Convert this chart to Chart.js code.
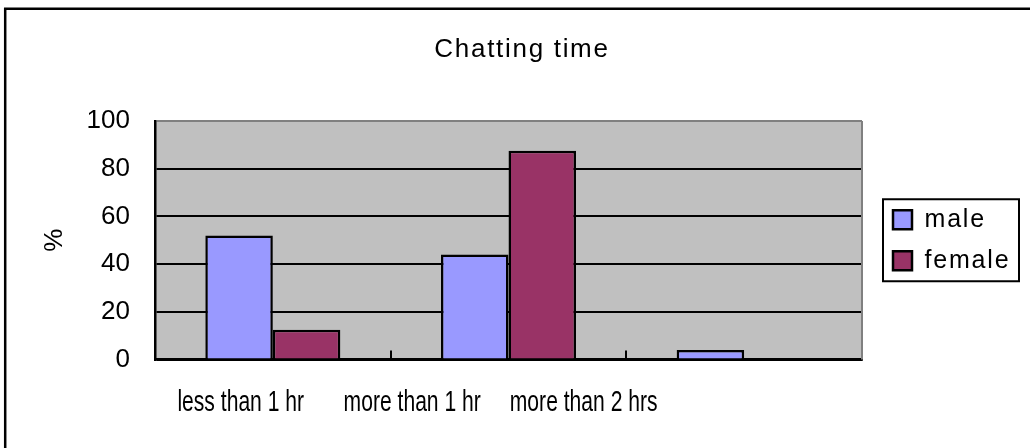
<!DOCTYPE html>
<html>
<head>
<meta charset="utf-8">
<title>Chatting time</title>
<script src="https://cdn.jsdelivr.net/npm/chart.js@4"></script>
<style>
  html, body { margin: 0; padding: 0; background: #fff; }
  canvas { display: block; }
</style>
</head>
<body>
<canvas id="chart" width="1030" height="448"></canvas>
<script>
// Survey data: share of respondents (%) by daily chatting time
const categories = ['less than 1 hr', 'more than 1 hr', 'more than 2 hrs'];
const seriesNames = ['male', 'female'];
const maleValues = [52, 44, 4];
const femaleValues = [12.5, 87.5, 0];
const yTicks = [0, 20, 40, 60, 80, 100];
const chartTitle = 'Chatting time';
const yTitle = '%';

const FONT = "'Liberation Sans', Arial, sans-serif";
Chart.defaults.font.family = FONT;
Chart.defaults.color = '#000';

// Wrap a drawing/measuring method so its text is rendered with extra letter spacing
function withLetterSpacing(obj, name, spacing) {
  const orig = obj[name];
  obj[name] = function (...args) {
    const ctx = this.ctx;
    const prev = ctx.letterSpacing;
    ctx.letterSpacing = spacing;
    try { return orig.apply(this, args); } finally { ctx.letterSpacing = prev; }
  };
}

const framePlugin = {
  id: 'frame',
  beforeLayout(chart) {
    if (chart.$framed) return;
    chart.$framed = true;
    const lg = chart.legend;
    const fit = lg.fit;
    lg.fit = function () { fit.call(this); this.width = 142; };
    withLetterSpacing(lg, 'fit', '1.8px');
    withLetterSpacing(lg, 'draw', '1.8px');
    withLetterSpacing(chart.titleBlock, 'draw', '1.7px');
  },
  beforeDraw(chart) {
    // grey plot background
    const { ctx, chartArea: a } = chart;
    ctx.save();
    ctx.fillStyle = '#C0C0C0';
    ctx.fillRect(a.left, a.top, a.width, a.height);
    ctx.restore();
  },
  beforeDatasetsDraw(chart) {
    // grey right edge of the plot area
    const { ctx, chartArea: a } = chart;
    ctx.save();
    ctx.strokeStyle = '#808080';
    ctx.lineWidth = 2;
    ctx.beginPath();
    ctx.moveTo(a.right, a.top);
    ctx.lineTo(a.right, a.bottom);
    ctx.stroke();
    ctx.restore();
  },
  afterDraw(chart) {
    const { ctx, chartArea: a } = chart;
    ctx.save();

    // category labels, set in a condensed face along the bottom axis
    const xs = chart.scales.x;
    const squash = 0.7276;
    ctx.save();
    ctx.font = "29px " + FONT;
    ctx.fillStyle = '#000';
    ctx.textAlign = 'center';
    ctx.textBaseline = 'alphabetic';
    ctx.translate(a.left, 0);
    ctx.scale(squash, 1);
    categories.forEach((c, i) => {
      ctx.fillText(c, xs.getPixelForValue(i) - a.left, xs.top + 51.5);
    });
    ctx.restore();

    // legend frame
    const lg = chart.legend;
    const hb = lg.legendHitBoxes;
    if (hb && hb.length) {
      const first = hb[0], last = hb[hb.length - 1];
      const x0 = first.left - 10, y0 = first.top - 8;
      const y1 = last.top + last.height + 8;
      ctx.strokeStyle = '#000';
      ctx.lineWidth = 2;
      ctx.strokeRect(x0, y0, lg.right - x0, y1 - y0);
    }

    // outer chart frame
    ctx.strokeStyle = '#000';
    ctx.lineWidth = 2.5;
    ctx.beginPath();
    ctx.moveTo(5.2, chart.height);
    ctx.lineTo(5.2, 8.7);
    ctx.lineTo(chart.width, 8.7);
    ctx.stroke();
    ctx.restore();
  }
};

new Chart(document.getElementById('chart'), {
  type: 'bar',
  data: {
    labels: categories,
    datasets: [
      {
        label: seriesNames[0],
        data: maleValues,
        backgroundColor: '#9999FF',
        borderColor: '#000',
        borderWidth: 2.5,
        categoryPercentage: 0.573,
        barPercentage: 1
      },
      {
        label: seriesNames[1],
        data: femaleValues,
        backgroundColor: '#993366',
        borderColor: '#000',
        borderWidth: 2.5,
        categoryPercentage: 0.573,
        barPercentage: 1
      }
    ]
  },
  options: {
    responsive: false,
    animation: false,
    devicePixelRatio: 1,
    layout: { padding: { left: 25, right: 11, top: 0, bottom: 0 } },
    scales: {
      x: {
        grid: {
          display: true,
          offset: true,
          drawOnChartArea: false,
          drawTicks: true,
          tickLength: -9,
          color: '#000',
          lineWidth: 2
        },
        border: { display: true, color: '#000', width: 2.5 },
        ticks: { display: false },
        afterFit: s => { s.height = 88.5; }
      },
      y: {
        min: 0,
        max: 100,
        afterBuildTicks: s => { s.ticks = yTicks.map(v => ({ value: v })); },
        grid: {
          drawTicks: false,
          lineWidth: 2,
          color: c => (c.tick && c.tick.value === 100 ? '#808080' : '#000')
        },
        border: { color: '#000', width: 2.5 },
        ticks: { font: { size: 26 }, padding: 25, color: '#000' },
        title: {
          display: true,
          text: yTitle,
          font: { size: 26 },
          padding: { top: 14.4, bottom: 0 },
          color: '#000'
        },
        afterFit: s => { s.width = 130; }
      },
      gap: {
        type: 'linear',
        position: 'right',
        display: true,
        grid: { display: false },
        border: { display: false },
        ticks: { display: false },
        afterFit: s => { s.width = 15; }
      }
    },
    plugins: {
      title: {
        display: true,
        text: chartTitle,
        font: { size: 26, weight: 'normal' },
        padding: { top: 34.4, bottom: 55.4 },
        color: '#000'
      },
      legend: {
        position: 'right',
        fullSize: false,
        align: 'center',
        labels: {
          boxWidth: 19,
          boxHeight: 19,
          padding: 16,
          font: { size: 25 },
          color: '#000'
        }
      },
      tooltip: { enabled: false }
    }
  },
  plugins: [framePlugin]
});
</script>
</body>
</html>
